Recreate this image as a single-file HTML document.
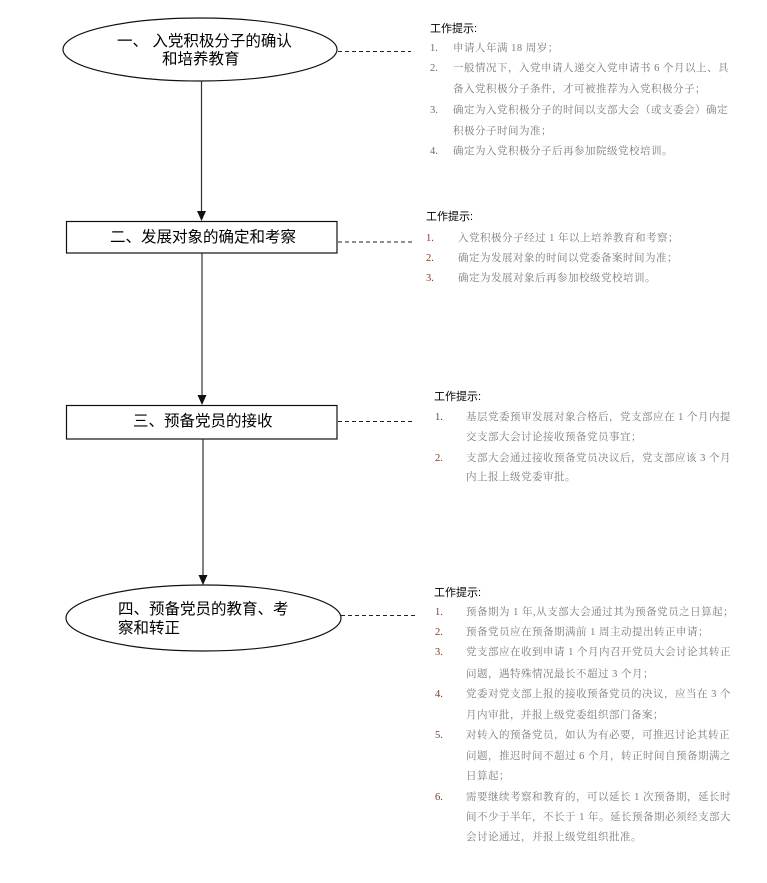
<!DOCTYPE html>
<html><head><meta charset="utf-8">
<style>
html,body{margin:0;padding:0;background:#fff;}
body{width:767px;height:883px;position:relative;overflow:hidden;}
.m{position:absolute;white-space:nowrap;font-family:"Liberation Sans","Noto Sans CJK SC",sans-serif;font-size:15.5px;line-height:18px;color:#000;}
.t{position:absolute;white-space:nowrap;font-family:"Liberation Sans","Noto Sans CJK SC",sans-serif;font-size:11px;line-height:14px;color:#000;}
.l{position:absolute;white-space:nowrap;font-family:"Liberation Serif","Noto Serif CJK SC",serif;font-size:10.5px;line-height:14px;color:#7a7a7a;letter-spacing:0.5px;}
.n{position:absolute;white-space:nowrap;font-family:"Liberation Serif","Noto Serif CJK SC",serif;font-size:10.5px;line-height:14px;color:#6a6a7a;}
.r{color:#7a3a2a;}
</style></head><body>
<svg width="767" height="883" style="position:absolute;left:0;top:0">
  <ellipse cx="200" cy="49.5" rx="137" ry="31.5" fill="#fff" stroke="#111" stroke-width="1.2"/>
  <rect x="66.5" y="221.5" width="270.5" height="31.5" fill="#fff" stroke="#111" stroke-width="1.2"/>
  <rect x="66.5" y="405.5" width="270.5" height="33.5" fill="#fff" stroke="#111" stroke-width="1.2"/>
  <ellipse cx="203.5" cy="618" rx="137.5" ry="33" fill="#fff" stroke="#111" stroke-width="1.2"/>
  <g stroke="#333" stroke-width="1.2">
    <line x1="201.5" y1="81" x2="201.5" y2="212"/>
    <line x1="202" y1="253" x2="202" y2="396"/>
    <line x1="203" y1="439" x2="203" y2="576"/>
  </g>
  <g fill="#111">
    <polygon points="197,211 206,211 201.5,221"/>
    <polygon points="197.5,395 206.5,395 202,405"/>
    <polygon points="198.5,575 207.5,575 203,585"/>
  </g>
  <g stroke="#222" stroke-width="1" stroke-dasharray="4,3">
    <line x1="338" y1="51.5" x2="411" y2="51.5"/>
    <line x1="338" y1="242" x2="412" y2="242"/>
    <line x1="338" y1="421.5" x2="412" y2="421.5"/>
    <line x1="341" y1="615.5" x2="415" y2="615.5"/>
  </g>
</svg>

<div class="m" style="left:117px;top:33px;">一、<span style="letter-spacing:0">&nbsp;</span>入党积极分子的确认</div>
<div class="m" style="left:162px;top:51px;">和培养教育</div>
<div class="m" style="left:110px;top:229px;">二、发展对象的确定和考察</div>
<div class="m" style="left:133px;top:413px;">三、预备党员的接收</div>
<div class="m" style="left:118px;top:601px;">四、预备党员的教育、考</div>
<div class="m" style="left:118px;top:620px;">察和转正</div>

<!-- Panel 1 -->
<div class="t" style="left:430px;top:22px;">工作提示:</div>
<div class="n" style="left:430px;top:42px;">1.</div>
<div class="l" style="left:453px;top:42px;">申请人年满 18 周岁；</div>
<div class="n" style="left:430px;top:62px;">2.</div>
<div class="l" style="left:453px;top:62px;">一般情况下，入党申请人递交入党申请书 6 个月以上、具</div>
<div class="l" style="left:453px;top:83px;">备入党积极分子条件，才可被推荐为入党积极分子；</div>
<div class="n" style="left:430px;top:104px;">3.</div>
<div class="l" style="left:453px;top:104px;">确定为入党积极分子的时间以支部大会（或支委会）确定</div>
<div class="l" style="left:453px;top:125px;">积极分子时间为准；</div>
<div class="n" style="left:430px;top:145px;">4.</div>
<div class="l" style="left:453px;top:145px;">确定为入党积极分子后再参加院级党校培训。</div>

<!-- Panel 2 -->
<div class="t" style="left:426px;top:210px;">工作提示:</div>
<div class="n r" style="left:426px;top:232px;">1.</div>
<div class="l" style="left:458px;top:232px;">入党积极分子经过 1 年以上培养教育和考察；</div>
<div class="n r" style="left:426px;top:252px;">2.</div>
<div class="l" style="left:458px;top:252px;">确定为发展对象的时间以党委备案时间为准；</div>
<div class="n r" style="left:426px;top:272px;">3.</div>
<div class="l" style="left:458px;top:272px;">确定为发展对象后再参加校级党校培训。</div>

<!-- Panel 3 -->
<div class="t" style="left:434px;top:390px;">工作提示:</div>
<div class="n r" style="left:435px;top:411px;">1.</div>
<div class="l" style="left:466px;top:411px;">基层党委预审发展对象合格后，党支部应在 1 个月内提</div>
<div class="l" style="left:466px;top:431px;">交支部大会讨论接收预备党员事宜；</div>
<div class="n r" style="left:435px;top:452px;">2.</div>
<div class="l" style="left:466px;top:452px;">支部大会通过接收预备党员决议后，党支部应该 3 个月</div>
<div class="l" style="left:466px;top:471px;">内上报上级党委审批。</div>

<!-- Panel 4 -->
<div class="t" style="left:434px;top:586px;">工作提示:</div>
<div class="n r" style="left:435px;top:606px;">1.</div>
<div class="l" style="left:466px;top:606px;">预备期为 1 年,从支部大会通过其为预备党员之日算起；</div>
<div class="n r" style="left:435px;top:626px;">2.</div>
<div class="l" style="left:466px;top:626px;">预备党员应在预备期满前 1 周主动提出转正申请；</div>
<div class="n r" style="left:435px;top:646px;">3.</div>
<div class="l" style="left:466px;top:646px;">党支部应在收到申请 1 个月内召开党员大会讨论其转正</div>
<div class="l" style="left:466px;top:668px;">问题，遇特殊情况最长不超过 3 个月；</div>
<div class="n r" style="left:435px;top:688px;">4.</div>
<div class="l" style="left:466px;top:688px;">党委对党支部上报的接收预备党员的决议，应当在 3 个</div>
<div class="l" style="left:466px;top:709px;">月内审批，并报上级党委组织部门备案；</div>
<div class="n r" style="left:435px;top:729px;">5.</div>
<div class="l" style="left:466px;top:729px;">对转入的预备党员，如认为有必要，可推迟讨论其转正</div>
<div class="l" style="left:466px;top:750px;">问题，推迟时间不超过 6 个月，转正时间自预备期满之</div>
<div class="l" style="left:466px;top:770px;">日算起；</div>
<div class="n r" style="left:435px;top:791px;">6.</div>
<div class="l" style="left:466px;top:791px;">需要继续考察和教育的，可以延长 1 次预备期，延长时</div>
<div class="l" style="left:466px;top:811px;">间不少于半年，不长于 1 年。延长预备期必须经支部大</div>
<div class="l" style="left:466px;top:831px;">会讨论通过，并报上级党组织批准。</div>
</body></html>
